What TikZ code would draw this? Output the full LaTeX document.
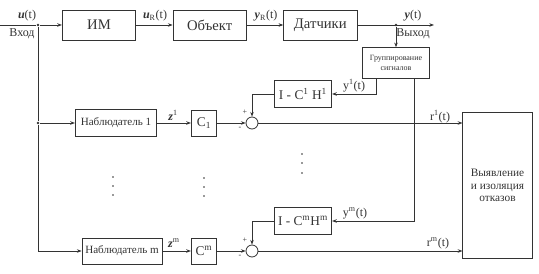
\documentclass[tikz,border=0pt]{standalone}
\usepackage{fontspec}
\setmainfont{Liberation Serif}
\usetikzlibrary{positioning,calc,arrows.meta}

\begin{document}
\begin{tikzpicture}[x=0.75pt, y=-0.75pt, node distance=83pt, line width=0.6pt, color=black!80]

    % Define styles
    \tikzstyle{block} = [
        rectangle, draw, inner sep=1pt,
        minimum width=55pt, minimum height=22.5pt,
        text centered, font=\fontsize{11}{13}\selectfont
    ]
    \tikzstyle{sumnode} = [circle, draw, minimum size=9pt, inner sep=0pt]
    \tikzstyle{lbl} = [inner sep=0pt, font=\fontsize{9}{10}\selectfont]
    \tikzstyle{sign} = [inner sep=0pt, font=\fontsize{6}{7}\selectfont]
    \tikzstyle{dotpt} = [circle, fill, inner sep=0pt, minimum size=2.2pt]
    \tikzstyle{arrow} = [-{Stealth[length=3.5pt,width=2.6pt]}]

    \useasboundingbox (0,0) rectangle (539,274);

    % Nodes
    \node[block] (im) at (99,25) {ИМ};
    \node[block, right of=im] (plant) {Объект};
    \node[block, right of=plant] (sensors) {Датчики};
    \node[block, minimum width=50pt, minimum height=23pt, align=center,
          font=\fontsize{6}{7}\selectfont] (group) at (396,63) {Группирование\\сигналов};
    \node[block, minimum width=43pt, minimum height=20pt,
          font=\fontsize{10}{12}\selectfont] (fb1) at (303,94) {I - C\textsuperscript{1} H\textsuperscript{1}};
    \node[block, minimum width=43pt, minimum height=20pt,
          font=\fontsize{10}{12}\selectfont] (fbm) at (303,221) {I - C\textsuperscript{m}H\textsuperscript{m}};
    \node[block, minimum width=61pt, minimum height=20pt,
          font=\fontsize{8.3}{10}\selectfont] (obs1) at (116,123) {Наблюдатель 1};
    \node[block, minimum width=60pt, minimum height=19.5pt,
          font=\fontsize{8.3}{10}\selectfont] (obsm) at (122,251) {Наблюдатель m};
    \node[block, minimum width=19pt, minimum height=19.5pt,
          font=\fontsize{10}{12}\selectfont] (c1) at (204,123) {C\textsubscript{1}};
    \node[block, minimum width=19pt, minimum height=19.5pt,
          font=\fontsize{10}{12}\selectfont] (cm) at (204,251) {C\textsuperscript{m}};
    \node[sumnode] (sum1) at (252,123) {};
    \node[sumnode] (summ) at (252,251) {};
    \node[block, minimum width=52pt, minimum height=110pt, align=center,
          font=\fontsize{8.5}{9.5}\selectfont] (detect) at (497.5,185.5) {Выявление\\и изоляция\\отказов};

    % Junctions
    \coordinate (in) at (0,25);
    \coordinate (out) at (434,25);
    \coordinate (bend) at (38,251);
    \node[dotpt] (split) at (38,25) {};
    \node[dotpt] (split1) at (38,123) {};
    \node[dotpt] (tap) at (396,25) {};

    % Labels
    \node[lbl] (ulbl) at (27,16) {\textbf{\textit{u}}(t)};
    \node[lbl] (inlbl) at (22,34) {Вход};
    \node[lbl] (urlbl) at (155,16) {\textbf{\textit{u}}\textsubscript{R}(t)};
    \node[lbl] (yrlbl) at (266,16) {\textbf{\textit{y}}\textsubscript{R}(t)};
    \node[lbl] (ylbl) at (413,16) {\textbf{\textit{y}}(t)};
    \node[lbl] (outlbl) at (413,34) {Выход};
    \node[lbl] (y1lbl) at (354,86) {y\textsuperscript{1}(t)};
    \node[lbl] (ymlbl) at (355,213) {y\textsuperscript{m}(t)};
    \node[lbl] (z1lbl) at (173,115) {\textbf{\textit{z}}\textsuperscript{1}};
    \node[lbl] (zmlbl) at (174,243) {\textbf{\textit{z}}\textsuperscript{m}};
    \node[lbl] (r1lbl) at (440,117) {r\textsuperscript{1}(t)};
    \node[lbl] (rmlbl) at (438,243) {r\textsuperscript{m}(t)};
    \node[sign] (p1) at (245,112) {+};
    \node[sign] (m1) at (240,128) {-};
    \node[sign] (pm) at (245,240) {+};
    \node[sign] (mm) at (240,256) {-};

    % Arrows
    \draw (in) -- (split);
    \draw[arrow] (split) -- (im);
    \draw[arrow] (im) -- (plant);
    \draw[arrow] (plant) -- (sensors);
    \draw[arrow] (sensors) -- (out);
    \draw[arrow] (tap) -- (group);
    \draw (split) -- (split1) -- (bend);
    \draw[arrow] (split1) -- (obs1);
    \draw[arrow] (bend) -- (obsm);
    \draw[arrow] ($(group.south west)!0.21!(group.south east)$) |- (fb1.east);
    \draw[arrow] ($(group.south west)!0.78!(group.south east)$) |- (fbm.east);
    \draw[arrow] (fb1.west) -| (sum1.north);
    \draw[arrow] (fbm.west) -| (summ.north);
    \draw[arrow] (obs1) -- (c1);
    \draw[arrow] (obsm) -- (cm);
    \draw[arrow] (c1) -- (sum1);
    \draw[arrow] (cm) -- (summ);
    \draw[arrow] (sum1) -- (sum1 -| detect.west);
    \draw[arrow] (summ) -- (summ -| detect.west);

    % Dots
    \foreach \x/\y in {113/177, 113/186, 113/195, 204/178, 204/187, 204/196, 302/154, 302/163, 302/173}
        \fill (\x,\y) circle (0.6pt);

\end{tikzpicture}
\end{document}
